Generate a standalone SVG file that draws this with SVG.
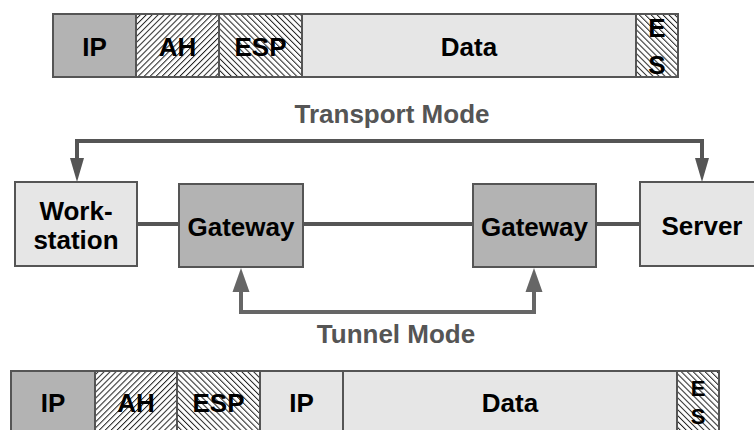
<svg xmlns="http://www.w3.org/2000/svg" width="754" height="430" viewBox="0 0 754 430">
  <defs>
    <!-- diagonal hatch fills for header fields -->
    <pattern id="hatchBack" patternUnits="userSpaceOnUse" width="4.2" height="4.2" patternTransform="rotate(45)">
      <rect width="4.2" height="4.2" fill="#ffffff"/>
      <line x1="0" y1="0" x2="0" y2="4.2" stroke="#222" stroke-width="2"/>
    </pattern>
    <pattern id="hatchFwd" patternUnits="userSpaceOnUse" width="4.2" height="4.2" patternTransform="rotate(-45)">
      <rect width="4.2" height="4.2" fill="#ffffff"/>
      <line x1="0" y1="0" x2="0" y2="4.2" stroke="#222" stroke-width="2"/>
    </pattern>
  </defs>
  <style>
    text { font-family: "Liberation Sans", Arial, Helvetica, sans-serif; font-weight: bold; font-size: 26px; text-anchor: middle; fill: #000; }
    .lbl { fill: #555; }
    .small { font-size: 22px; }
    .dark { fill: #b3b3b3; stroke: #555; stroke-width: 2; }
    .light { fill: #e6e6e6; stroke: #555; stroke-width: 2; }
    .hb { fill: url(#hatchBack); stroke: #555; stroke-width: 2; }
    .hf { fill: url(#hatchFwd); stroke: #555; stroke-width: 2; }
    .link { stroke: #555; stroke-width: 4; fill: none; }
    .tunnel { stroke: #666; stroke-width: 4; fill: none; }
  </style>

  <!-- transport-mode packet -->
  <g id="packet-transport">
    <rect class="dark" x="53" y="14" width="83" height="63"/>
    <rect class="hb" x="136" y="14" width="83" height="63"/>
    <rect class="hf" x="219" y="14" width="83" height="63"/>
    <rect class="light" x="302" y="14" width="334" height="63"/>
    <rect class="hf" x="636" y="14" width="42" height="63"/>
    <text x="94.5" y="56">IP</text>
    <text x="177.5" y="56">AH</text>
    <text x="260.5" y="56">ESP</text>
    <text x="469" y="56">Data</text>
    <text x="657" y="37">E</text>
    <text x="657" y="74">S</text>
  </g>

  <text class="lbl" x="392" y="123">Transport Mode</text>
  <text class="lbl" x="396" y="343">Tunnel Mode</text>

  <!-- connectors -->
  <g id="connectors">
    <line class="link" x1="137" y1="224" x2="179" y2="224"/>
    <line class="link" x1="303" y1="224" x2="473" y2="224"/>
    <line class="link" x1="596" y1="224" x2="640" y2="224"/>
    <path class="link" d="M77,158 L77,141 L702,141 L702,158"/>
    <path d="M70,158 L84,158 L77,182 Z" fill="#555"/>
    <path d="M695,158 L709,158 L702,182 Z" fill="#555"/>
    <path class="tunnel" d="M241,292 L241,312 L534,312 L534,292"/>
    <path d="M232.5,292 L249.5,292 L241,268 Z" fill="#666"/>
    <path d="M525.5,292 L542.5,292 L534,268 Z" fill="#666"/>
  </g>

  <g id="workstation">
    <rect class="light" x="15" y="182" width="122" height="84"/>
    <text x="76" y="220">Work-</text>
    <text x="76" y="249">station</text>
  </g>
  <g id="gateway-left">
    <rect class="dark" x="179" y="184" width="124" height="83"/>
    <text x="241" y="236">Gateway</text>
  </g>
  <g id="gateway-right">
    <rect class="dark" x="473" y="184" width="123" height="83"/>
    <text x="534.5" y="236">Gateway</text>
  </g>
  <g id="server">
    <rect class="light" x="640" y="182" width="124" height="84"/>
    <text x="702" y="235">Server</text>
  </g>

  <!-- tunnel-mode packet -->
  <g id="packet-tunnel">
    <rect class="dark" x="11" y="371" width="84" height="70"/>
    <rect class="hb" x="95" y="371" width="82" height="70"/>
    <rect class="hf" x="177" y="371" width="83" height="70"/>
    <rect class="light" x="260" y="371" width="83" height="70"/>
    <rect class="light" x="343" y="371" width="334" height="70"/>
    <rect class="hf" x="677" y="371" width="42" height="70"/>
    <text x="53" y="412">IP</text>
    <text x="136" y="412">AH</text>
    <text x="218.5" y="412">ESP</text>
    <text x="301.5" y="412">IP</text>
    <text x="510" y="412">Data</text>
    <text class="small" x="698" y="396">E</text>
    <text class="small" x="698" y="424">S</text>
  </g>
</svg>
